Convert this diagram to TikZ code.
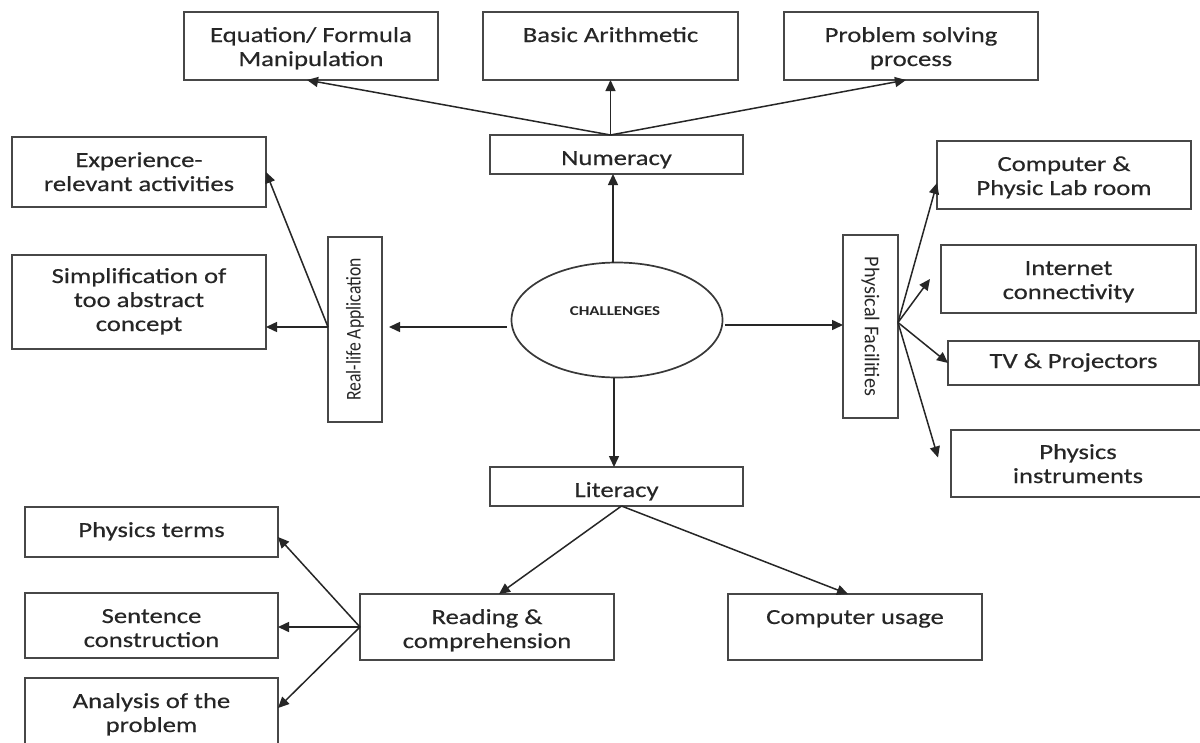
\documentclass[tikz,border=0pt]{standalone}
\usepackage{graphicx}
\usepackage{fontspec}
\setmainfont{Carlito}
\newfontfamily\boxfont[FakeStretch=1.24,FakeBold=0.4]{Carlito}
\newfontfamily\rlfont[FakeStretch=0.84]{Carlito}
\newfontfamily\pffont[FakeStretch=0.96]{Carlito}
\newfontfamily\chfont[FakeStretch=1.25]{Carlito}
\usetikzlibrary{arrows.meta,shapes.geometric,calc}
\newcommand{\bt}[4][30pt]{\parbox[c][#3][t]{#2}{\centering\rule{0pt}{#1}#4}}
\begin{document}
\begin{tikzpicture}[x=1pt,y=-1pt,
  box/.style={draw=black!72, line width=1.7pt, inner sep=0pt, outer sep=0pt,
    rectangle, text=black!85, font=\boxfont\fontsize{21.5}{24}\selectfont},
  vbox/.style={draw=black!72, line width=1.7pt, inner sep=0pt, outer sep=0pt,
    rectangle, text=black!85},
  arr/.style={draw=black!85, line width=1.5pt, -{Triangle[length=11pt,width=10pt]}}]
\path[use as bounding box] (0,0) rectangle (1200,742);
\clip (0,0) rectangle (1200,742);
\fill[white] (0,0) rectangle (1200,742);

% top row
\node[box] (eq) at (311,46) {\bt{254pt}{68pt}{Equation/ Formula\\Manipulation}};
\node[box] (ba) at (610.5,46) {\bt{255pt}{68pt}{Basic Arithmetic}};
\node[box] (pb) at (911,46) {\bt{254pt}{68pt}{Problem solving\\process}};
\node[box] (num) at (616.5,154.5) {\bt{253pt}{39pt}{Numeracy}};

% left
\node[box] (exp) at (139,172) {\bt{254pt}{70pt}{Experience-\\relevant activities}};
\node[box] (simp) at (139,302) {\bt[28pt]{254pt}{94pt}{Simplification of\\too abstract\\concept}};
\node[vbox, minimum width=54pt, minimum height=185pt] (rl) at (355,329.5)
  {\rotatebox{90}{\rlfont\fontsize{21}{24}\selectfont Real-life Application}};

% centre
\node[ellipse, draw=black!78, line width=1.7pt, minimum width=211pt, minimum height=115pt,
  inner sep=0pt, outer sep=0pt] (ch) at (617,320) {};
\node[font=\chfont\bfseries\fontsize{13.5}{15}\selectfont, text=black!85, inner sep=0pt]
  (chl) at (615,311) {CHALLENGES};

% right
\node[vbox, minimum width=55pt, minimum height=183pt] (pf) at (870.5,326.5)
  {\rotatebox{-90}{\pffont\fontsize{21}{24}\selectfont Physical Facilities}};
\node[box] (cpl) at (1064,175) {\bt{254pt}{68pt}{Computer \&\\Physic Lab room}};
\node[box] (int) at (1068.5,279) {\bt{255pt}{68pt}{Internet\\connectivity}};
\node[box] (tv) at (1073.5,363) {\bt[27pt]{251pt}{44pt}{TV \& Projectors}};
\node[box] (pi) at (1078,463.5) {\bt[29pt]{254pt}{67pt}{Physics\\instruments}};

% bottom
\node[box] (lit) at (616.5,486.5) {\bt{253pt}{39pt}{Literacy}};
\node[box] (pt) at (151.5,532) {\bt{253pt}{50pt}{Physics terms}};
\node[box] (sc) at (151.5,625.5) {\bt{253pt}{65pt}{Sentence\\construction}};
\node[box] (an) at (151.5,715) {\bt{253pt}{74pt}{Analysis of the\\problem}};
\node[box] (rc) at (487,627) {\bt{254pt}{66pt}{Reading \&\\comprehension}};
\node[box] (cu) at (855,627) {\bt{254pt}{66pt}{Computer usage}};

% connectors: numeracy
\coordinate (numo) at (ba.south |- num.north);
\draw[arr] (numo) -- ([xshift=-4pt]eq.south);
\draw[arr] (numo) -- (ba.south);
\draw[arr] (numo) -- ([xshift=-5pt]pb.south);

% challenges
\draw[arr] ([xshift=-4pt]ch.north) -- ([xshift=-4pt]ch.north |- num.south);
\draw[arr] ([xshift=-3pt]ch.south) -- ([xshift=-3pt]ch.south |- lit.north);
\coordinate (chw) at ([xshift=-5pt,yshift=-7pt]ch.west);
\draw[arr, shorten >=7pt] (chw) -- (chw -| rl.east);
\coordinate (che) at ([xshift=2pt,yshift=-5pt]ch.east);
\draw[arr] (che) -- (che -| pf.west);

% real-life
\coordinate (rlo) at ([yshift=2.5pt]rl.west);
\draw[arr] (rlo) -- (exp.east);
\draw[arr] (rlo) -- (rlo -| simp.east);

% physical facilities
\coordinate (pfo) at ([yshift=4pt]pf.east);
\draw[arr] (pfo) -- ([yshift=-8pt]cpl.west);
\draw[arr] (pfo) -- ([xshift=-11pt]int.west);
\draw[arr] (pfo) -- (tv.west);
\draw[arr] (pfo) -- ([xshift=-13pt,yshift=6pt]pi.west);

% literacy
\coordinate (lito) at ([xshift=5pt]lit.south);
\draw[arr] (lito) -- ([xshift=12pt]rc.north);
\draw[arr] (lito) -- ([xshift=-7pt]cu.north);

% reading
\draw[arr] (rc.west) -- ([yshift=-5pt]pt.east);
\draw[arr] (rc.west) -- (rc.west -| sc.east);
\draw[arr] (rc.west) -- ([yshift=7pt]an.east);
\end{tikzpicture}
\end{document}
